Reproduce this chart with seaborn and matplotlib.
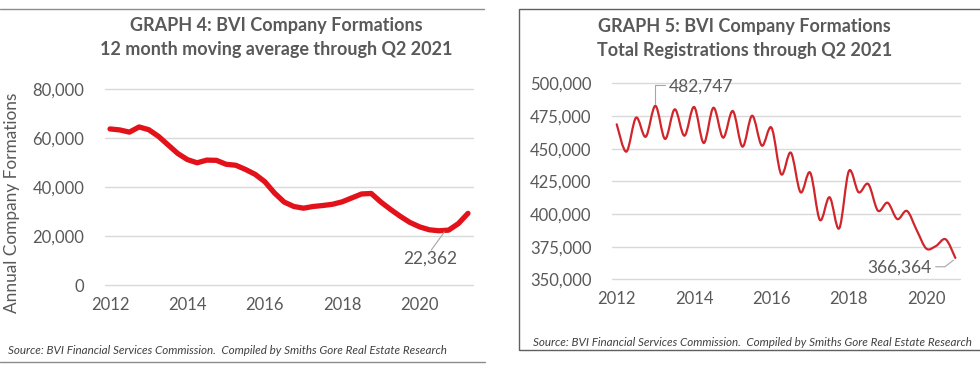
import matplotlib
matplotlib.use("Agg")
import matplotlib.pyplot as plt
import seaborn as sns
import pandas as pd
from matplotlib.path import Path
from matplotlib.patches import PathPatch, Rectangle
from matplotlib.lines import Line2D

# ---------------- data ----------------
formation_years = [2012.00, 2012.25, 2012.50, 2012.75, 2013.00, 2013.25, 2013.50, 2013.75,
                   2014.00, 2014.25, 2014.50, 2014.75, 2015.00, 2015.25, 2015.50, 2015.75,
                   2016.00, 2016.25, 2016.50, 2016.75, 2017.00, 2017.25, 2017.50, 2017.75,
                   2018.00, 2018.25, 2018.50, 2018.75, 2019.00, 2019.25, 2019.50, 2019.75,
                   2020.00, 2020.25, 2020.50, 2020.75, 2021.00, 2021.25]
formation_values = [63600, 63200, 62300, 64400, 63300, 60600, 57100, 53600,
                    51100, 49800, 50900, 50800, 49200, 48800, 47100, 45100,
                    42100, 37500, 33800, 32000, 31300, 32000, 32400, 32900,
                    33900, 35500, 37100, 37300, 33800, 30800, 28000, 25500,
                    23700, 22500, 22100, 22362, 25000, 29200]

registration_years = [2012.00, 2012.25, 2012.50, 2012.75, 2013.00, 2013.25, 2013.50, 2013.75,
                      2014.00, 2014.25, 2014.50, 2014.75, 2015.00, 2015.25, 2015.50, 2015.75,
                      2016.00, 2016.25, 2016.50, 2016.75, 2017.00, 2017.25, 2017.50, 2017.75,
                      2018.00, 2018.25, 2018.50, 2018.75, 2019.00, 2019.25, 2019.50, 2019.75,
                      2020.00, 2020.25, 2020.50, 2020.75]
registration_values = [468600, 447700, 473700, 459100, 482747, 457400, 480100, 459900,
                       481900, 454300, 481300, 458400, 478800, 451500, 475200, 452300,
                       466000, 430400, 446900, 416600, 431600, 395400, 412800, 389000,
                       432900, 416600, 422900, 402500, 408600, 396100, 402300, 387700,
                       373500, 375500, 380600, 366364]

x_ticks = [2012, 2014, 2016, 2018, 2020]
left_y_ticks = [0, 20000, 40000, 60000, 80000]
right_y_ticks = [350000, 375000, 400000, 425000, 450000, 475000, 500000]

title4 = ["GRAPH 4: BVI Company Formations", "12 month moving average through Q2 2021"]
title5 = ["GRAPH 5: BVI Company Formations", "Total Registrations through Q2 2021"]
source = "Source: BVI Financial Services Commission.  Compiled by Smiths Gore Real Estate Research"

# ---------------- style ----------------
sns.set_theme(style="white")
plt.rcParams['font.family'] = ['Lato', 'DejaVu Sans']

GREY_TXT = '#595959'
GRID = '#d9d9d9'
RED_L = '#e3121a'
RED_R = '#d0262b'

W, H = 980, 368
fig = plt.figure(figsize=(W / 100, H / 100), dpi=100)
fig.patch.set_facecolor('white')


def fx(px):
    return px / W


def fy(py):
    return 1 - py / H


ax1 = fig.add_axes([fx(105), fy(285), (473 - 105) / W, (285 - 88.7) / H])
ax2 = fig.add_axes([fx(612.3), fy(279.3), (960 - 612.3) / W, (279.3 - 83.3) / H])


def style_axis(ax, yticks):
    for s in ax.spines.values():
        s.set_visible(False)
    ax.set_xticks(x_ticks)
    ax.set_xticklabels([str(t) for t in x_ticks])
    ax.set_yticks(yticks)
    ax.set_yticklabels([f"{t:,}" for t in yticks])
    ax.tick_params(axis='both', length=0, labelsize=12, colors=GREY_TXT)
    ax.tick_params(axis='y', pad=15)
    ax.tick_params(axis='x', pad=8.5)
    ax.yaxis.grid(True, color=GRID, lw=1)
    ax.xaxis.grid(False)
    for gl in ax.get_ygridlines():
        gl.set_clip_on(False)
    ax.set_xlabel('')
    ax.set_ylabel('')
    ax.set_facecolor('white')


# ---------------- left chart ----------------
df4 = pd.DataFrame({'year': formation_years, 'value': formation_values})
sns.lineplot(data=df4, x='year', y='value', ax=ax1, color=RED_L, linewidth=3.8,
             solid_capstyle='round', solid_joinstyle='round')
ax1.set_xlim(2011.87, 2021.38)
ax1.set_ylim(0, 80000)
style_axis(ax1, left_y_ticks)

ax1.add_line(Line2D([2020.30, 2020.64], [14200, 21600], color='#a6a6a6', lw=0.8))
ax1.text(2020.27, 10600, "22,362", ha='center', va='center', fontsize=12.5, color=GREY_TXT)

# ---------------- right chart (smoothed line, Catmull-Rom -> cubic Bezier) ----------------
df5 = pd.DataFrame({'year': registration_years, 'value': registration_values})
pts = list(zip(df5['year'], df5['value']))
verts = [pts[0]]
codes = [Path.MOVETO]
n = len(pts)
for i in range(n - 1):
    p0 = pts[i - 1] if i > 0 else pts[i]
    p1 = pts[i]
    p2 = pts[i + 1]
    p3 = pts[i + 2] if i + 2 < n else pts[i + 1]
    c1 = (p1[0] + (p2[0] - p0[0]) / 6, p1[1] + (p2[1] - p0[1]) / 6)
    c2 = (p2[0] - (p3[0] - p1[0]) / 6, p2[1] - (p3[1] - p1[1]) / 6)
    verts += [c1, c2, p2]
    codes += [Path.CURVE4] * 3
ax2.add_patch(PathPatch(Path(verts, codes), facecolor='none', edgecolor=RED_R, lw=1.6,
                        joinstyle='round', capstyle='round'))
ax2.set_xlim(2011.886, 2020.87)
ax2.set_ylim(350000, 500000)
style_axis(ax2, right_y_ticks)

ax2.add_line(Line2D([2013.0, 2013.0, 2013.26], [484000, 498700, 498700], color='#a6a6a6', lw=0.8,
                    clip_on=False))
ax2.text(2014.19, 497400, "482,747", ha='center', va='center', fontsize=12.5, color=GREY_TXT)
ax2.add_line(Line2D([2020.24, 2020.48, 2020.70], [359600, 359600, 364600], color='#a6a6a6', lw=0.8,
                    clip_on=False))
ax2.text(2019.295, 358900, "366,364", ha='center', va='center', fontsize=12.5, color=GREY_TXT)

# ---------------- titles, labels, frames ----------------
TS = 13
fig.text(fx(276), fy(25), title4[0], ha='center', va='center', fontsize=TS,
         fontweight='bold', color=GREY_TXT)
fig.text(fx(276), fy(49), title4[1], ha='center', va='center', fontsize=TS,
         fontweight='bold', color=GREY_TXT)
fig.text(fx(744.5), fy(26.7), title5[0], ha='center', va='center', fontsize=TS,
         fontweight='bold', color=GREY_TXT)
fig.text(fx(744.5), fy(50.7), title5[1], ha='center', va='center', fontsize=TS,
         fontweight='bold', color=GREY_TXT)

fig.text(fx(12), fy(202.5), "Annual Company Formations", rotation=90, ha='center', va='center',
         fontsize=12.4, color=GREY_TXT)

fig.text(fx(8), fy(351), source, ha='left', va='center', fontsize=8.4, style='italic',
         color='#404040')
fig.text(fx(533), fy(342.3), source, ha='left', va='center', fontsize=8.4, style='italic',
         color='#404040')

fig.add_artist(Line2D([0, fx(484)], [fy(9), fy(9)], transform=fig.transFigure, color='#8c8c8c', lw=1))
fig.add_artist(Line2D([0, fx(485)], [fy(361.5), fy(361.5)], transform=fig.transFigure, color='#8c8c8c', lw=1))
fig.add_artist(Rectangle((fx(519.3), fy(350)), (990 - 519.3) / W, (350 - 9.3) / H,
                         transform=fig.transFigure, fill=False, edgecolor='#606060', lw=1.0))

fig.savefig("out.png", dpi=100, facecolor='white')
